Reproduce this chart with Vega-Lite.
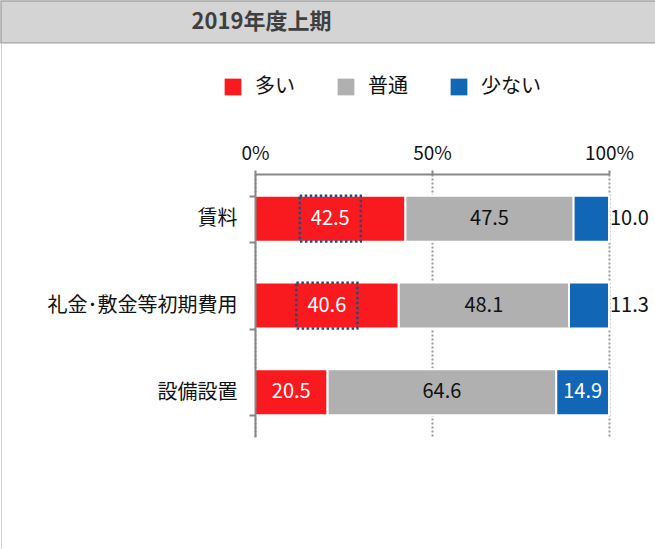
{
  "$schema": "https://vega.github.io/schema/vega-lite/v6.json",
  "padding": 0,
  "autosize": {"type": "pad"},
  "background": "white",
  "spacing": 0,
  "bounds": "flush",
  "config": {"font": "Noto Sans CJK JP", "view": {"stroke": null}},
  "vconcat": [
    {
      "width": 655,
      "height": 42,
      "view": {"fill": "#d4d4d4", "stroke": "#a6a6a6", "strokeWidth": 1.5},
      "data": {"values": [{"label": "2019年度上期"}]},
      "mark": {"type": "text", "fontSize": 22, "fontWeight": "bold", "color": "#3f3f3f", "dx": -67, "baseline": "middle", "align": "center"},
      "encoding": {"text": {"field": "label"}}
    },
    {
      "width": 655,
      "height": 507,
      "view": {"stroke": "#d0d0d0"},
      "data": {
        "values": [
          {"item": "賃料", "category": "多い", "ord": 1, "value": 42.5},
          {"item": "賃料", "category": "普通", "ord": 2, "value": 47.5},
          {"item": "賃料", "category": "少ない", "ord": 3, "value": 10.0},
          {"item": "礼金･敷金等初期費用", "category": "多い", "ord": 1, "value": 40.6},
          {"item": "礼金･敷金等初期費用", "category": "普通", "ord": 2, "value": 48.1},
          {"item": "礼金･敷金等初期費用", "category": "少ない", "ord": 3, "value": 11.3},
          {"item": "設備設置", "category": "多い", "ord": 1, "value": 20.5},
          {"item": "設備設置", "category": "普通", "ord": 2, "value": 64.6},
          {"item": "設備設置", "category": "少ない", "ord": 3, "value": 14.9}
        ]
      },
      "transform": [
        {"stack": "value", "groupby": ["item"], "sort": [{"field": "ord", "order": "ascending"}], "as": ["v0", "v1"]},
        {"calculate": "(datum.v0 + datum.v1) / 2", "as": "mid"}
      ],
      "layer": [
        {
          "mark": {"type": "bar", "stroke": "white", "strokeWidth": 2},
          "encoding": {
            "y": {
              "field": "item", "type": "nominal",
              "sort": ["賃料", "礼金･敷金等初期費用", "設備設置"],
              "scale": {"range": [131, 394], "paddingInner": 0.47, "paddingOuter": 0.25},
              "axis": {
                "orient": "left", "offset": -254, "title": null, "zindex": 1,
                "domainColor": "#878787", "domainWidth": 2,
                "tickColor": "#878787", "tickWidth": 2, "tickSize": 6, "tickBand": "extent",
                "labelFontSize": 20, "labelPadding": 12, "labelColor": "#111111", "labelLimit": 400, "grid": false
              }
            },
            "x": {
              "field": "v0", "type": "quantitative",
              "scale": {"domain": [0, 100], "range": [254, 608], "nice": false},
              "axis": {
                "orient": "top", "offset": -131, "values": [0, 50, 100], "title": null,
                "labelExpr": "datum.value + '%'",
                "domainColor": "#878787", "domainWidth": 2,
                "tickColor": "#878787", "tickWidth": 2, "tickSize": 4,
                "labelFontSize": 19, "labelColor": "#111111", "labelPadding": 7, "labelFlush": false,
                "grid": true, "gridDash": [2, 2], "gridColor": "#9a9a9a", "gridWidth": 2
              }
            },
            "x2": {"field": "v1"},
            "color": {
              "field": "category", "type": "nominal",
              "scale": {"domain": ["多い", "普通", "少ない"], "range": ["#f81a1f", "#b0b0b0", "#1166b5"]},
              "legend": {
                "title": null, "orient": "none", "legendX": 222, "legendY": 76,
                "direction": "horizontal", "symbolType": "square", "symbolSize": 280,
                "symbolStrokeWidth": 0, "symbolOpacity": 1, "labelFontSize": 20, "labelOffset": 12,
                "columnPadding": 41, "labelColor": "#111111"
              }
            }
          }
        },
        {
          "transform": [{"filter": "!(datum.category === '少ない' && datum.value < 12)"}],
          "mark": {"type": "text", "fontSize": 20, "baseline": "middle", "align": "center"},
          "encoding": {
            "y": {"field": "item", "type": "nominal", "sort": ["賃料", "礼金･敷金等初期費用", "設備設置"]},
            "x": {"field": "mid", "type": "quantitative"},
            "text": {"field": "value", "type": "quantitative", "format": ".1f"},
            "color": {"condition": {"test": "datum.category === '普通'", "value": "#111111"}, "value": "#ffffff"}
          }
        },
        {
          "transform": [{"filter": "datum.category === '少ない' && datum.value < 12"}],
          "mark": {"type": "text", "fontSize": 20, "baseline": "middle", "align": "left", "dx": 1, "color": "#111111"},
          "encoding": {
            "y": {"field": "item", "type": "nominal", "sort": ["賃料", "礼金･敷金等初期費用", "設備設置"]},
            "x": {"field": "v1", "type": "quantitative"},
            "text": {"field": "value", "type": "quantitative", "format": ".1f"}
          }
        },
        {
          "transform": [{"filter": "datum.category === '多い' && datum.item !== '設備設置'"}],
          "mark": {
            "type": "point", "shape": "M-1,-0.75L1,-0.75L1,0.75L-1,0.75Z", "size": 3721,
            "filled": false, "opacity": 1, "color": "#1f4e79", "strokeWidth": 2.5, "strokeDash": [2.5, 2.5]
          },
          "encoding": {
            "y": {"field": "item", "type": "nominal", "sort": ["賃料", "礼金･敷金等初期費用", "設備設置"]},
            "x": {"field": "mid", "type": "quantitative"}
          }
        }
      ]
    }
  ]
}
